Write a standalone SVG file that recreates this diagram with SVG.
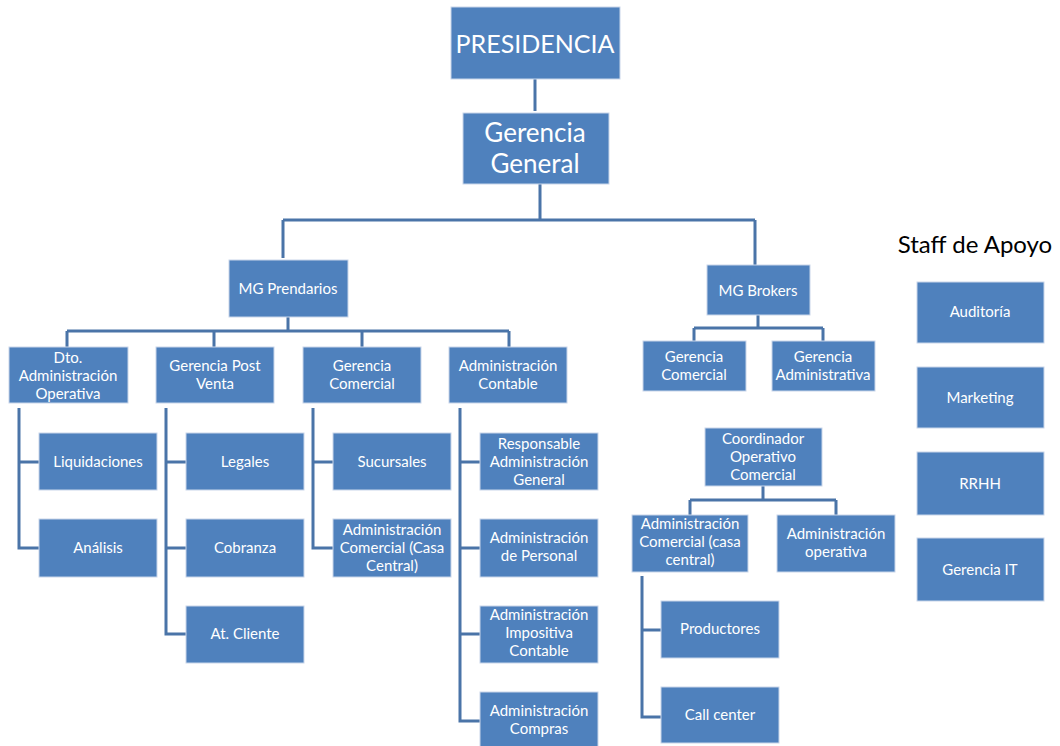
<svg xmlns="http://www.w3.org/2000/svg" width="1060" height="746" viewBox="0 0 1060 746">
<style>
.b{fill:#4f81bd;stroke:#c9d6ea;stroke-width:1}
.t{fill:#fff;font-family:Lato,"Open Sans",sans-serif;font-size:15px;text-anchor:middle;dominant-baseline:central}
.c{fill:none;stroke:#4a74a8;stroke-width:3}
</style>
<rect width="1060" height="746" fill="#fff"/>
<g id="connectors">
<path class="c" d="M535,79V111"/>
<path class="c" d="M540,184V220M283,220H755M283,220V258M755,220V265"/>
<path class="c" d="M288,317V331M67,331H509M67,331V347M214,331V347M362,331V347M509,331V347"/>
<path class="c" d="M19,408V548H39M19,462H39"/>
<path class="c" d="M166,408V634H186M166,462H186M166,548H186"/>
<path class="c" d="M313,408V548H333M313,462H333"/>
<path class="c" d="M460,408V721H480M460,462H480M460,548H480M460,634H480"/>
<path class="c" d="M758,315V328M694,328H823M694,328V341M823,328V341"/>
<path class="c" d="M763,486V500M690,500H836M690,500V515M836,500V515"/>
<path class="c" d="M642,576V717H661M642,630H661"/>
</g>
<g id="presidencia"><rect class="b" x="451" y="7" width="169" height="72"/><text class="t" x="535" y="43" style="font-size:25px">PRESIDENCIA</text></g>
<g id="gerencia-general"><rect class="b" x="463" y="113" width="146" height="71"/><text class="t" x="535" y="132" style="font-size:26px">Gerencia</text><text class="t" x="535" y="163" style="font-size:26px">General</text></g>
<g id="mg-prendarios"><rect class="b" x="229" y="260" width="119" height="57"/><text class="t" x="288" y="288">MG Prendarios</text></g>
<g id="mg-brokers"><rect class="b" x="707" y="265" width="103" height="50"/><text class="t" x="758" y="290">MG Brokers</text></g>
<g id="dto-adm-operativa"><rect class="b" x="9" y="347" width="119" height="56"/><text class="t" x="68" y="357">Dto.</text><text class="t" x="68" y="375">Administración</text><text class="t" x="68" y="393">Operativa</text></g>
<g id="gerencia-post-venta"><rect class="b" x="156" y="347" width="118" height="56"/><text class="t" x="215" y="365">Gerencia Post</text><text class="t" x="215" y="383">Venta</text></g>
<g id="gerencia-comercial"><rect class="b" x="303" y="347" width="118" height="56"/><text class="t" x="362" y="365">Gerencia</text><text class="t" x="362" y="383">Comercial</text></g>
<g id="administracion-contable"><rect class="b" x="449" y="347" width="118" height="56"/><text class="t" x="508" y="365">Administración</text><text class="t" x="508" y="383">Contable</text></g>
<g id="liquidaciones"><rect class="b" x="39" y="433" width="118" height="57"/><text class="t" x="98" y="461">Liquidaciones</text></g>
<g id="analisis"><rect class="b" x="39" y="519" width="118" height="58"/><text class="t" x="98" y="547">Análisis</text></g>
<g id="legales"><rect class="b" x="186" y="433" width="118" height="57"/><text class="t" x="245" y="461">Legales</text></g>
<g id="cobranza"><rect class="b" x="186" y="519" width="118" height="58"/><text class="t" x="245" y="547">Cobranza</text></g>
<g id="at-cliente"><rect class="b" x="186" y="606" width="118" height="57"/><text class="t" x="245" y="633">At. Cliente</text></g>
<g id="sucursales"><rect class="b" x="333" y="433" width="118" height="57"/><text class="t" x="392" y="461">Sucursales</text></g>
<g id="adm-comercial-casa-central"><rect class="b" x="333" y="519" width="118" height="58"/><text class="t" x="392" y="529">Administración</text><text class="t" x="392" y="547">Comercial (Casa</text><text class="t" x="392" y="565">Central)</text></g>
<g id="responsable-adm-general"><rect class="b" x="480" y="433" width="118" height="57"/><text class="t" x="539" y="443">Responsable</text><text class="t" x="539" y="461">Administración</text><text class="t" x="539" y="479">General</text></g>
<g id="adm-personal"><rect class="b" x="480" y="519" width="118" height="58"/><text class="t" x="539" y="537">Administración</text><text class="t" x="539" y="555">de Personal</text></g>
<g id="adm-impositiva"><rect class="b" x="480" y="606" width="118" height="57"/><text class="t" x="539" y="614">Administración</text><text class="t" x="539" y="632">Impositiva</text><text class="t" x="539" y="650">Contable</text></g>
<g id="adm-compras"><rect class="b" x="480" y="692" width="118" height="56"/><text class="t" x="539" y="710">Administración</text><text class="t" x="539" y="728">Compras</text></g>
<g id="brokers-gerencia-comercial"><rect class="b" x="643" y="341" width="103" height="50"/><text class="t" x="694" y="356">Gerencia</text><text class="t" x="694" y="374">Comercial</text></g>
<g id="brokers-gerencia-administrativa"><rect class="b" x="772" y="341" width="103" height="50"/><text class="t" x="823" y="356">Gerencia</text><text class="t" x="823" y="374">Administrativa</text></g>
<g id="coordinador"><rect class="b" x="705" y="428" width="117" height="58"/><text class="t" x="763" y="438">Coordinador</text><text class="t" x="763" y="456">Operativo</text><text class="t" x="763" y="474">Comercial</text></g>
<g id="adm-comercial-brokers"><rect class="b" x="632" y="515" width="116" height="57"/><text class="t" x="690" y="523">Administración</text><text class="t" x="690" y="541">Comercial (casa</text><text class="t" x="690" y="559">central)</text></g>
<g id="adm-operativa"><rect class="b" x="777" y="515" width="118" height="57"/><text class="t" x="836" y="533">Administración</text><text class="t" x="836" y="551">operativa</text></g>
<g id="productores"><rect class="b" x="661" y="601" width="118" height="57"/><text class="t" x="720" y="628">Productores</text></g>
<g id="call-center"><rect class="b" x="661" y="687" width="118" height="56"/><text class="t" x="720" y="714">Call center</text></g>
<text x="975" y="243" font-family="Lato,'Open Sans',sans-serif" font-size="24" fill="#000" text-anchor="middle" dominant-baseline="central">Staff de Apoyo</text>
<g id="auditoria"><rect class="b" x="917" y="282" width="127" height="61"/><text class="t" x="980" y="311">Auditoría</text></g>
<g id="marketing"><rect class="b" x="917" y="367" width="127" height="61"/><text class="t" x="980" y="397">Marketing</text></g>
<g id="rrhh"><rect class="b" x="917" y="452" width="127" height="63"/><text class="t" x="980" y="483">RRHH</text></g>
<g id="gerencia-it"><rect class="b" x="917" y="538" width="127" height="63"/><text class="t" x="980" y="569">Gerencia IT</text></g>
</svg>
